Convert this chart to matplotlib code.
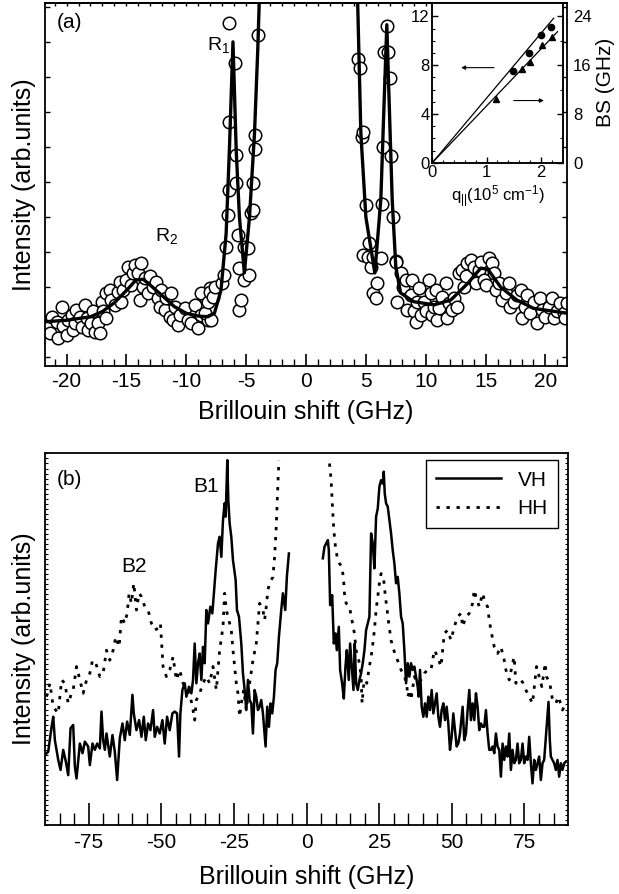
import matplotlib
matplotlib.use("Agg")
import matplotlib.pyplot as plt
import numpy as np

plt.rcParams["font.family"] = ["Liberation Sans", "DejaVu Sans"]
plt.rcParams["mathtext.fontset"] = "custom"
plt.rcParams["mathtext.rm"] = "Liberation Sans"
plt.rcParams["mathtext.default"] = "regular"
plt.rcParams["axes.unicode_minus"] = False

# ---- panel (a): measured spectrum (open circles) ----
circ_x = [-21.67, -21.39, -21.25, -20.83, -20.69, -20.42, -20.28, -20.0, -19.86, -19.58,
          -19.44, -19.31, -19.17, -18.89, -18.75, -18.47, -18.33, -18.19, -17.92, -17.78,
          -17.64, -17.36, -17.22, -17.08, -16.94, -16.67, -16.67, -16.39, -16.25, -15.97,
          -15.69, -15.56, -15.42, -15.28, -15.0, -14.86, -14.58, -14.44, -14.31, -14.03,
          -13.89, -13.75, -13.61, -13.47, -13.19, -13.06, -12.78, -12.5, -12.36, -12.22,
          -12.08, -11.81, -11.67, -11.39, -11.25, -11.11, -10.97, -10.69, -10.56, -10.14,
          -9.86, -9.58, -9.31, -9.03, -8.75, -8.47, -8.19, -8.06,
          -8.47, -7.92, -8.75, -8.19, -8.06, -7.78, -7.64, -7.0, -6.86,
          -6.67, -6.53, -6.47, -6.39, -6.39, -5.92, -5.83, -5.83, -5.69, -5.56, -5.56,
          -5.42, -5.14, -5.14, -4.86, -4.72, -4.58, -4.44, -4.44, -4.25, -4.25, -4.03,
          4.31, 4.53, 4.64, 4.72, 4.72, 5.0, 5.14, 5.28, 5.42, 5.56, 5.56, 5.83, 5.97,
          6.25, 6.31, 6.39, 6.53, 6.75, 6.86, 7.03, 7.14, 7.28, 7.5,
          7.5, 7.64, 7.92, 8.06, 8.33, 8.47, 8.75, 8.89, 9.03, 9.17, 9.31, 9.44, 9.58,
          9.86, 10.0, 10.28, 10.42, 10.56, 10.69, 10.83, 10.97, 11.11, 11.39, 11.67,
          11.81, 11.94, 12.22, 12.36, 12.64, 12.78, 13.06, 13.19, 13.33, 13.47, 13.75,
          14.03, 14.17, 14.44, 14.58, 14.86, 15.0, 15.28, 15.56, 15.69, 15.83, 16.11,
          16.39, 16.67, 16.94, 17.08, 17.36, 17.64, 17.92, 18.06, 18.33, 18.47, 18.75,
          19.03, 19.31, 19.58, 19.72, 20.0, 20.28, 20.56, 20.69, 20.97, 21.25, 21.53,
          21.67, 21.81]
circ_y = [0.91, 0.68, 1.15, 1.01, 0.53, 1.44, 0.88, 0.64, 1.06, 1.20,
          0.77, 0.96, 1.34, 1.15, 0.87, 1.49, 1.10, 0.77, 0.96, 1.30,
          0.72, 0.96, 0.68, 1.58, 1.30, 1.10, 1.82, 1.91, 1.63, 1.49,
          1.87, 2.15, 1.58, 1.91, 2.20, 2.58, 2.06, 2.39, 2.63, 2.39,
          1.63, 2.68, 2.01, 2.25, 1.82, 2.30, 2.01, 2.15, 1.68, 1.44,
          1.91, 1.34, 1.68, 1.15, 1.82, 1.06, 1.44, 0.91, 1.20, 1.39,
          1.06, 0.96, 1.49, 0.82, 1.20, 1.72, 1.06, 1.96,
          1.25, 1.06, 1.82, 1.58, 1.86, 1.72, 2.01, 2.10, 2.34,
          3.15, 4.06, 4.76, 6.70, 9.55, 8.41, 5.78, 4.98, 3.49, 2.53, 1.34,
          1.63, 3.15, 2.20, 3.10, 2.34, 4.12, 4.98, 4.20, 6.34, 5.93, 9.20,
          8.50, 8.25, 6.28, 6.44, 2.91, 4.34, 2.86, 3.25, 2.58, 2.86, 1.82, 1.68, 2.10,
          2.82, 4.37, 5.99, 8.72, 9.46, 8.72, 7.96, 5.74, 3.99, 2.73,
          2.72, 1.58, 2.39, 2.01, 2.20, 1.34, 1.77, 2.20, 1.30, 1.01, 1.58, 1.96, 1.20,
          1.58, 1.30, 2.20, 1.82, 1.20, 1.44, 1.91, 1.06, 1.39, 1.72, 2.10,
          1.10, 1.53, 1.34, 1.68, 1.44, 2.39, 2.49, 2.01, 2.30, 2.68, 2.77,
          2.58, 2.10, 2.49, 2.72, 2.20, 2.06, 2.82, 2.68, 2.39, 1.91, 2.10,
          1.63, 1.82, 2.10, 1.44, 1.58, 1.77, 1.91, 1.10, 1.44, 1.77, 1.25,
          1.58, 0.96, 1.68, 1.34, 1.15, 1.44, 1.68, 1.10, 1.30, 1.53, 1.25,
          1.10, 1.53]

# fitted curve in (a)
fit_x = [-22.1, -20.0, -18.0, -17.0, -16.0, -15.0, -14.2, -13.6, -13.0, -12.0, -11.0,
         -10.0, -9.0, -8.2, -7.65, -7.1, -6.67, -6.4, -6.1, -5.83, -5.56, -5.15, -4.72,
         -4.3, -4.03, -3.9, -3.5, 0.0, 3.9, 4.31, 4.58, 5.0, 5.75, 6.25, 6.53, 6.75,
         6.94, 7.2, 7.5, 7.9, 9.0, 10.7, 12.1, 13.5, 14.6, 15.2, 16.25, 17.6, 19.0, 21.8]
fit_y = [1.0, 1.05, 1.15, 1.3, 1.55, 1.9, 2.2, 2.22, 2.05, 1.75, 1.44,
         1.25, 1.17, 1.15, 1.25, 1.91, 3.53, 5.9, 9.0, 5.9, 4.0, 2.4, 4.0,
         6.4, 8.77, 10.2, 13.0, 40.0, 13.0, 10.2, 6.4, 4.0, 2.4, 4.5, 7.34, 9.49,
         7.34, 4.49, 2.58, 1.83, 1.58, 1.49, 1.63, 2.1, 2.54, 2.5, 2.0, 1.63, 1.39, 1.25]

# inset: dispersion
q_dot = [1.49, 1.78, 2.01, 2.19]
bs_dot = [7.53, 8.99, 10.44, 11.12]
q_tri = [1.17, 1.66, 1.80, 2.03, 2.20]
bs_tri = [10.47, 15.4, 16.5, 19.3, 20.6]
q_line_dot = [0.0, 2.24]
bs_line_dot = [0.0, 11.86]
q_line_tri = [0.0, 2.31]
bs_line_tri = [0.0, 21.5]

# ---- panel (b): VH and HH spectra ----
vh_left_x = [-90.03, -88.89, -87.74, -87.17, -86.6, -85.45, -84.65, -83.73, -82.82, -82.01,
             -81.21, -80.3, -79.72, -79.15, -78.0, -77.09, -76.29, -75.14, -74.57, -73.65,
             -72.85, -72.05, -71.13, -70.56, -69.99, -69.41, -68.84, -67.7, -66.78, -65.98,
             -65.17, -64.26, -63.34, -62.54, -61.74, -60.82, -59.91, -59.45, -58.53, -57.62,
             -56.81, -56.01, -55.33, -54.52, -53.72, -52.8, -52.23, -51.43, -50.51, -49.6,
             -48.8, -47.99, -47.08, -46.16, -45.36, -44.56, -43.87, -43.41, -42.72, -41.92,
             -41.35, -40.43, -39.63, -39.06, -38.49, -37.91, -37.34, -36.77, -36.19, -35.62,
             -35.05, -34.48, -33.9, -33.1, -32.42, -31.96, -31.27, -30.47, -29.9, -29.32,
             -28.75, -28.18, -27.83, -27.26, -26.92, -26.46, -25.89, -25.31, -24.4, -23.94,
             -23.25, -22.45, -21.88, -21.3, -20.73, -20.16, -19.59, -19.01, -18.44, -17.87,
             -17.3, -16.72, -16.15, -15.58, -15.0, -14.09, -13.51, -12.94, -12.37, -11.8,
             -11.22, -10.65, -10.08, -9.5, -8.7, -8.13, -7.33, -6.76, -6.07]
vh_left_y = [18.8, 19.7, 26.4, 29.1, 22.8, 17.5, 14.8, 20.2, 17.0, 13.4,
             26.0, 26.9, 15.7, 12.5, 21.9, 19.3, 22.4, 21.1, 16.1, 21.9,
             20.2, 21.9, 20.6, 30.5, 22.8, 20.2, 24.6, 18.4, 24.2, 19.7,
             12.1, 23.3, 27.3, 22.8, 27.8, 24.2, 35.0, 30.0, 25.5, 28.2,
             23.7, 29.1, 22.8, 27.3, 25.5, 30.9, 23.7, 26.4, 24.6, 28.2,
             21.9, 29.1, 25.5, 30.0, 30.5, 30.0, 18.4, 30.0, 36.3, 38.1,
             34.5, 37.2, 35.4, 39.0, 48.8, 38.1, 43.5, 46.1, 39.0, 47.9,
             43.5, 57.8, 54.2, 58.7, 56.9, 61.4, 68.5, 75.7, 77.5, 72.1,
             82.0, 86.5, 82.9, 98.1, 87.4, 81.1, 77.5, 71.2, 65.9, 57.8,
             56.0, 48.8, 40.8, 36.3, 30.9, 39.0, 33.6, 32.7, 24.6, 36.3,
             34.5, 30.9, 31.8, 33.6, 30.0, 21.1, 31.8, 26.4, 32.7, 30.0,
             34.5, 41.7, 43.5, 50.6, 57.8, 62.3, 57.8, 66.8, 73.0]

vh_right_x = [5.61, 6.18, 7.33, 7.67, 8.13, 8.82, 9.39, 9.96, 10.42, 11.11,
              11.56, 12.25, 12.83, 13.4, 13.86, 14.54, 15.0, 15.57, 16.15, 16.6,
              17.06, 17.64, 18.21, 18.78, 19.35, 19.93, 20.5, 21.07, 21.64, 22.22,
              22.79, 23.36, 23.94, 24.51, 25.08, 25.65, 26.23, 26.57, 26.91, 27.37,
              27.95, 28.52, 29.09, 29.66, 30.24, 30.81, 31.38, 31.95, 32.53, 33.1,
              33.67, 34.25, 34.82, 35.39, 35.96, 36.54, 37.11, 37.68, 38.25, 38.6,
              39.06, 39.63, 40.2, 40.78, 41.35, 41.92, 42.49, 43.07, 43.64, 44.21,
              44.78, 45.36, 45.93, 46.5, 47.08, 47.65, 48.22, 48.79, 49.37, 49.94,
              50.51, 51.08, 51.66, 52.23, 52.8, 53.38, 53.72, 54.29, 54.86, 55.44,
              56.01, 56.58, 57.15, 57.73, 58.3, 58.87, 59.45, 60.02, 60.59, 61.16,
              61.74, 62.31, 62.88, 63.45, 64.03, 64.6, 65.17, 65.75, 66.32, 66.89,
              67.46, 68.04, 68.61, 69.18, 69.76, 70.33, 70.9, 71.47, 72.05, 72.62,
              73.19, 73.77, 74.34, 74.91, 75.48, 76.06, 76.63, 77.2, 77.77, 78.35,
              78.92, 79.49, 80.06, 80.64, 81.21, 81.78, 82.36, 83.27, 83.73, 84.07,
              84.65, 85.22, 85.79, 86.37, 86.94, 87.51, 88.08, 88.66, 89.23]
vh_right_y = [71.7, 74.8, 76.6, 73.9, 59.1, 61.8, 48.8, 51.5, 47.0, 53.3,
              41.7, 38.1, 34.0, 42.6, 47.0, 39.0, 48.8, 42.6, 36.3, 48.8,
              38.1, 36.3, 39.0, 40.8, 43.5, 47.0, 52.4, 54.2, 56.0, 78.4,
              75.7, 69.0, 82.9, 85.1, 91.0, 92.7, 91.8, 95.0, 89.2, 86.5,
              85.6, 82.0, 78.4, 73.9, 70.3, 65.0, 66.7, 62.3, 56.0, 54.2,
              47.0, 38.1, 43.5, 39.9, 43.5, 41.7, 42.6, 39.9, 37.2, 34.5,
              41.7, 31.8, 29.1, 32.7, 29.1, 34.5, 30.9, 36.3, 30.0, 32.7,
              35.4, 29.1, 26.4, 30.9, 32.7, 28.2, 31.8, 27.3, 20.2, 23.7,
              30.0, 25.5, 21.1, 21.9, 24.6, 29.1, 31.8, 22.8, 24.6, 30.9,
              36.3, 28.2, 32.7, 28.2, 35.4, 31.8, 25.5, 27.3, 26.4, 26.4,
              30.9, 24.6, 20.2, 20.2, 21.1, 19.3, 24.6, 21.1, 20.2, 13.0,
              21.9, 17.5, 21.1, 18.4, 24.6, 14.8, 20.2, 16.6, 17.5, 21.9,
              16.6, 17.5, 21.9, 16.6, 18.4, 17.5, 23.7, 16.6, 11.2, 17.5,
              14.8, 16.6, 18.4, 12.1, 16.6, 17.5, 23.7, 33.1, 22.8, 18.4,
              17.5, 16.6, 14.8, 17.5, 13.0, 16.6, 14.8, 16.6, 17.0]

hh_left_x = [-89.46, -88.31, -87.17, -85.45, -84.3, -83.16, -82.01, -80.87, -80.3, -79.15,
             -78.0, -76.86, -75.71, -74.57, -73.65, -72.51, -71.13, -69.99, -68.84, -67.7,
             -66.55, -65.63, -64.49, -63.69, -62.54, -61.74, -61.05, -60.25, -59.45, -58.53,
             -57.62, -56.81, -55.67, -54.52, -53.38, -52.23, -51.09, -50.28, -49.37, -48.22,
             -47.08, -45.93, -44.79, -43.64, -42.5, -41.35, -40.2, -39.06, -38.49, -37.91,
             -36.77, -35.62, -34.48, -33.33, -32.19, -31.04, -29.9, -28.75, -28.18, -27.6,
             -27.03, -26.46, -25.89, -25.31, -24.74, -24.17, -23.6, -23.02, -22.45, -21.65,
             -20.73, -19.59, -18.44, -17.3, -16.72, -16.15, -15.0, -14.43, -13.86, -13.28,
             -12.71, -11.57, -10.99, -10.42, -9.85, -9.5]
hh_left_y = [34.5, 38.1, 31.8, 30.0, 39.0, 38.1, 32.7, 35.4, 36.3, 42.6,
             39.0, 35.4, 39.0, 40.8, 44.3, 43.5, 39.9, 40.8, 47.0, 44.3,
             47.0, 50.6, 47.9, 56.0, 54.2, 56.9, 62.3, 59.6, 65.0, 57.8,
             62.3, 61.4, 58.7, 57.8, 54.2, 52.4, 52.9, 54.2, 42.6, 39.9,
             41.7, 45.2, 39.0, 41.7, 38.1, 36.3, 35.4, 30.9, 28.2, 33.6,
             35.4, 38.1, 39.9, 38.1, 42.6, 36.3, 47.0, 53.3, 62.3, 57.8,
             56.0, 54.2, 52.4, 47.0, 42.6, 38.1, 35.4, 29.1, 32.7, 36.3,
             30.9, 38.1, 44.3, 48.8, 54.2, 59.6, 57.8, 55.1, 58.7, 63.2,
             65.0, 66.7, 72.1, 80.2, 91.8, 98.1]

hh_right_x = [7.9, 8.47, 9.04, 9.39, 9.96, 10.53, 11.34, 12.25, 12.83, 13.05,
              13.63, 14.77, 16.49, 17.06, 18.21, 18.78, 19.13, 19.58, 20.16, 20.73,
              21.64, 22.56, 23.36, 23.94, 24.51, 25.08, 25.65, 26.46, 27.14, 27.6,
              28.29, 29.09, 29.66, 30.81, 31.73, 32.53, 33.67, 34.47, 34.82, 35.62,
              35.96, 37.11, 38.25, 39.4, 40.55, 41.69, 42.84, 43.98, 45.13, 46.27,
              47.42, 48.56, 49.71, 50.86, 52.0, 53.15, 53.72, 54.86, 56.01, 57.15,
              57.73, 58.3, 59.45, 60.59, 61.51, 62.31, 62.88, 63.45, 64.6, 65.75,
              66.89, 68.04, 68.61, 69.76, 70.9, 71.47, 72.05, 72.62, 73.77, 74.57,
              75.48, 76.63, 77.77, 79.15, 80.06, 80.98, 82.13, 82.59, 83.73, 84.65,
              85.79, 86.71, 88.08, 89.23]
hh_right_y = [97.2, 92.7, 83.8, 79.3, 74.8, 72.1, 70.3, 69.4, 65.0, 62.3,
              59.6, 58.7, 51.5, 47.0, 43.5, 39.9, 32.7, 37.2, 39.0, 38.1,
              42.6, 47.0, 52.4, 57.8, 61.4, 65.0, 67.6, 66.7, 61.4, 58.7,
              54.2, 49.7, 47.9, 45.2, 43.5, 41.7, 39.9, 38.1, 34.5, 36.3,
              33.6, 39.9, 38.1, 39.0, 40.8, 41.7, 41.7, 47.0, 45.2, 42.6,
              51.5, 52.4, 49.7, 53.3, 56.0, 56.9, 53.3, 56.0, 56.9, 59.6,
              63.2, 61.4, 58.7, 62.3, 59.6, 58.7, 55.1, 52.4, 47.9, 46.1,
              47.9, 44.3, 41.7, 39.0, 43.5, 45.2, 38.1, 39.0, 39.0, 38.1,
              36.3, 34.5, 32.7, 42.6, 39.9, 37.2, 43.5, 39.9, 38.1, 33.6,
              32.7, 34.5, 30.9, 32.7]

fig = plt.figure(figsize=(6.19, 8.94), dpi=100)

# ---------------- (a) ----------------
ax_a = fig.add_axes([0.0727, 0.5906, 0.8433, 0.406])
ax_a.plot(circ_x, circ_y, "o", ms=9, mfc="white", mec="black", mew=1.1, zorder=2)
ax_a.plot(fit_x, fit_y, "-", color="black", lw=2.4, zorder=3)
ax_a.set_xlim(-21.8, 21.8)
ax_a.set_ylim(-0.257, 10.11)
ax_a.set_xticks(np.arange(-20, 21, 5))
ax_a.set_xticks(np.arange(-21, 22, 1), minor=True)
ax_a.set_yticks(np.arange(0, 11, 1))
ax_a.set_yticklabels([])
ax_a.tick_params(axis="x", which="major", direction="in", length=8.4, width=1.2,
                 labelsize=15, pad=4.5)
ax_a.tick_params(axis="x", which="minor", direction="in", length=4.8, width=1.0)
ax_a.tick_params(axis="y", direction="in", length=3.5, width=1.0, left=True, right=True)
top = ax_a.secondary_xaxis("top")
top.set_xticks(np.arange(-21, 22, 1))
top.tick_params(direction="in", length=2.5, width=1.0, labeltop=False)
for s in list(ax_a.spines.values()) + list(top.spines.values()):
    s.set_linewidth(1.3)
ax_a.set_xlabel("Brillouin shift (GHz)", fontsize=18, labelpad=6)
ax_a.set_ylabel("Intensity (arb.units)", fontsize=18, labelpad=3)
ax_a.text(-20.8, 9.55, "(a)", fontsize=15, va="center", ha="left")
ax_a.text(-8.3, 8.9, "R$_1$", fontsize=14, va="center", ha="left")
ax_a.text(-12.6, 3.45, "R$_2$", fontsize=14, va="center", ha="left")

# inset
ax_in = fig.add_axes([0.6984, 0.818, 0.2119, 0.1786])
ax_in.plot(q_line_dot, bs_line_dot, "-", color="black", lw=0.9)
ax_in.plot(q_dot, bs_dot, "o", color="black", ms=4.5)
ax_in.set_xlim(0, 2.42)
ax_in.set_ylim(0, 13.1)
ax_in.set_xticks([0, 1, 2])
ax_in.set_xticks(np.arange(0, 2.42, 0.2), minor=True)
ax_in.set_yticks([0, 4, 8, 12])
ax_in.set_yticks(np.arange(0, 13, 1), minor=True)
ax_in.tick_params(which="major", direction="in", length=4, width=1.0, labelsize=12, pad=2)
ax_in.tick_params(which="minor", direction="in", length=2.5, width=0.8)
ax_in.set_xlabel("q$_{||}$(10$^5$ cm$^{-1}$)", fontsize=12, labelpad=2)
ax_in.annotate("", xy=(0.48, 7.8), xytext=(1.19, 7.8),
               arrowprops=dict(arrowstyle="-|>", lw=0.8, color="black", mutation_scale=6))
ax_in.annotate("", xy=(2.11, 5.1), xytext=(1.45, 5.1),
               arrowprops=dict(arrowstyle="-|>", lw=0.8, color="black", mutation_scale=6))
tw = ax_in.twinx()
tw.plot(q_line_tri, bs_line_tri, "-", color="black", lw=0.9)
tw.plot(q_tri, bs_tri, "^", color="black", ms=5)
tw.set_ylim(0, 26.2)
tw.set_yticks([0, 8, 16, 24])
tw.set_yticks(np.arange(0, 25, 4), minor=True)
tw.tick_params(which="major", direction="in", length=4, width=1.0, labelsize=12, pad=7)
tw.tick_params(which="minor", direction="in", length=2.5, width=0.8)
tw.set_ylabel("BS (GHz)", fontsize=15, labelpad=3)
for s in list(ax_in.spines.values()) + list(tw.spines.values()):
    s.set_linewidth(1.1)

# ---------------- (b) ----------------
ax_b = fig.add_axes([0.0727, 0.0772, 0.845, 0.416])
ax_b.plot(vh_left_x, vh_left_y, "-", color="black", lw=1.8, label="VH")
ax_b.plot(vh_right_x, vh_right_y, "-", color="black", lw=1.8)
ax_b.plot(hh_left_x, hh_left_y, color="black", lw=2.0, ls=(0, (1.2, 2.4)), label="HH")
ax_b.plot(hh_right_x, hh_right_y, color="black", lw=2.0, ls=(0, (1.2, 2.4)))
ax_b.set_xlim(-90, 90)
ax_b.set_ylim(0, 100)
ax_b.set_xticks([-75, -50, -25, 0, 25, 50, 75])
ax_b.set_xticks(np.arange(-85, 90, 5), minor=True)
ax_b.set_yticks(np.arange(0, 100, 1.35))
ax_b.set_yticklabels([])
ax_b.tick_params(axis="x", which="major", direction="in", length=15.5, width=1.2,
                 labelsize=15, pad=6)
ax_b.tick_params(axis="x", which="minor", direction="in", length=8.4, width=1.0)
ax_b.tick_params(axis="y", direction="in", length=2, width=0.8, left=True, right=True)
for s in ax_b.spines.values():
    s.set_linewidth(1.3)
ax_b.set_xlabel("Brillouin shift (GHz)", fontsize=18, labelpad=9)
ax_b.set_ylabel("Intensity (arb.units)", fontsize=18, labelpad=3)
ax_b.text(-86, 93, "(b)", fontsize=15, va="center", ha="left")
ax_b.text(-39, 91, "B1", fontsize=15, va="center", ha="left")
ax_b.text(-63.6, 69.4, "B2", fontsize=15, va="center", ha="left")
leg = ax_b.legend(loc="upper right", bbox_to_anchor=(0.981, 0.981), borderaxespad=0,
                  fontsize=15, handlelength=3.1, frameon=True, fancybox=False,
                  framealpha=1, edgecolor="black", borderpad=0.5, labelspacing=0.45)
leg.get_frame().set_linewidth(1.0)

fig.savefig("out.png", dpi=100)
